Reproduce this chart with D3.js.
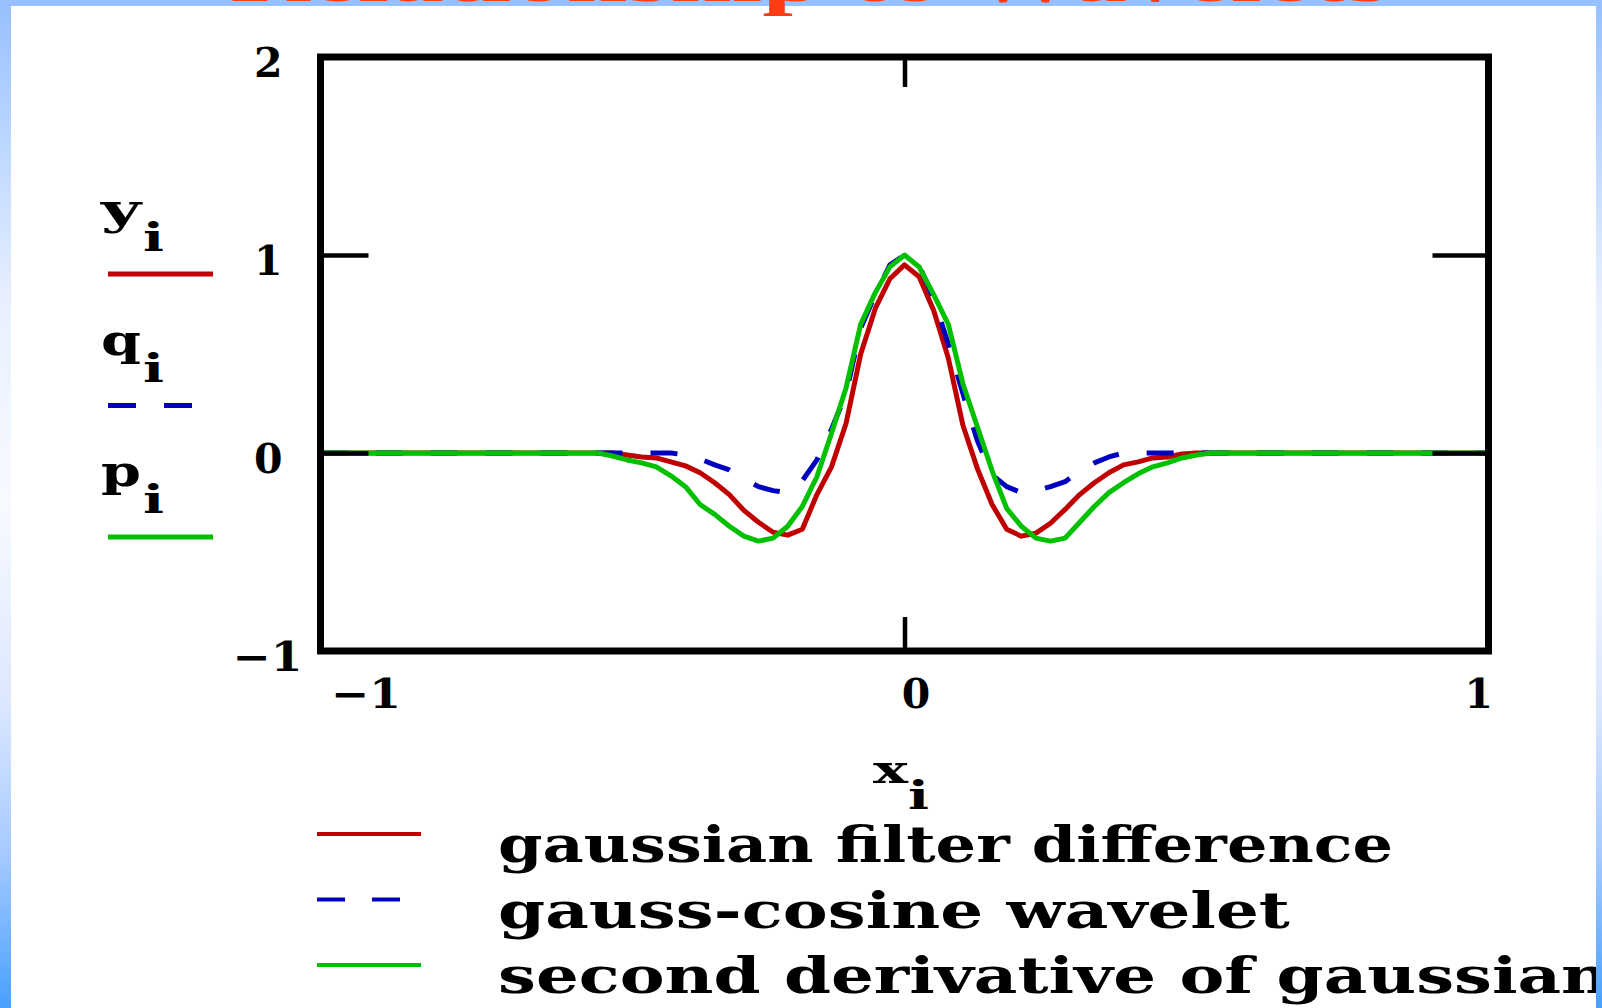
<!DOCTYPE html>
<html>
<head>
<meta charset="utf-8">
<script src="https://cdn.jsdelivr.net/npm/d3@7"></script>
<style>
  body { margin: 0; overflow: hidden; background: #fff; }
  svg { display: block; }
</style>
</head>
<body>
<svg id="chart" width="1602" height="1008"></svg>
<script>
// sample points x_i and the three traces
var xs = [-1, -0.55, -0.525, -0.5, -0.475, -0.45, -0.425, -0.4, -0.375, -0.35, -0.325, -0.3,
  -0.275, -0.25, -0.225, -0.2, -0.175, -0.15, -0.125, -0.1, -0.075, -0.05, -0.025, 0,
  0.025, 0.05, 0.075, 0.1, 0.125, 0.15, 0.175, 0.2, 0.225, 0.25, 0.275, 0.3, 0.325,
  0.35, 0.375, 0.4, 0.425, 0.45, 0.475, 0.5, 0.525, 0.55, 1];

// y_i : gaussian filter difference
var gaussDiff = [0, 0, 0, 0, -0.01, -0.02, -0.025, -0.045, -0.065, -0.1, -0.15, -0.21,
  -0.29, -0.35, -0.4, -0.415, -0.385, -0.21, -0.07, 0.15, 0.5, 0.73, 0.88, 0.95,
  0.89, 0.72, 0.48, 0.14, -0.08, -0.26, -0.385, -0.42, -0.405, -0.355, -0.285, -0.21, -0.15,
  -0.1, -0.06, -0.045, -0.025, -0.02, -0.005, 0, 0, 0, 0];

// q_i : gauss-cosine wavelet
var gaussCos = [0, 0, 0, 0, 0, 0, 0, 0, -0.01, -0.03, -0.06, -0.085,
  -0.13, -0.17, -0.19, -0.2, -0.14, -0.035, 0.12, 0.3, 0.63, 0.8, 0.95, 1.0,
  0.95, 0.78, 0.55, 0.3, 0.06, -0.11, -0.17, -0.2, -0.19, -0.17, -0.145, -0.09, -0.05,
  -0.02, 0, 0, 0, 0, 0, 0, 0, 0, 0];

// p_i : second derivative of gaussian
var secondDeriv = [0, 0, 0, -0.015, -0.035, -0.05, -0.07, -0.115, -0.17, -0.26, -0.31, -0.37,
  -0.42, -0.445, -0.43, -0.37, -0.27, -0.12, 0.1, 0.33, 0.65, 0.81, 0.94, 1.0,
  0.94, 0.8, 0.65, 0.35, 0.13, -0.09, -0.28, -0.37, -0.43, -0.445, -0.43, -0.35, -0.27,
  -0.2, -0.15, -0.105, -0.07, -0.05, -0.025, -0.01, 0, 0, 0];

var xTicks = [-1, 0, 1];
var yTicks = [-1, 0, 1, 2];
var seriesVars = ['y', 'q', 'p'];
var seriesNames = ['gaussian filter difference', 'gauss-cosine wavelet', 'second derivative of gaussian'];
var titleText = 'Relationship to Wavelets';

var W = 1602, H = 1008;
var colors = ['#c00000', '#0000c0', '#00c000'];
var dashes = [null, '27,28', null];
var legendWidths = [895, 792, 1112];
var serif = '"DejaVu Serif", "Liberation Serif", serif';

var svg = d3.select('#chart');
var defs = svg.append('defs');

// slide background: blue band fading to white and back
var grad = defs.append('linearGradient').attr('id', 'bg').attr('x1', 0).attr('y1', 0).attr('x2', 0).attr('y2', 1);
[[0, '#96c0ff'], [0.3, '#e8f0ff'], [0.5, '#f8faff'], [0.7, '#dbe7ff'], [0.85, '#a5c9ff'], [1, '#48a0ff']]
  .forEach(function(s){ grad.append('stop').attr('offset', s[0]).attr('stop-color', s[1]); });
svg.append('rect').attr('width', W).attr('height', H).attr('fill', 'url(#bg)');

defs.append('clipPath').attr('id', 'panel')
  .append('rect').attr('x', 11).attr('y', 6).attr('width', 1585).attr('height', H - 6);
svg.append('rect').attr('x', 11).attr('y', 6).attr('width', 1585).attr('height', H - 6).attr('fill', '#fff');

var g = svg.append('g').attr('clip-path', 'url(#panel)');

var x = d3.scaleLinear().domain([-1, 1]).range([320.5, 1488.5]);
var y = d3.scaleLinear().domain([-1, 2]).range([651, 57]);

// traces: red, then blue dashed, green on top
var line = d3.line()
  .x(function(d){ return x(d[0]); })
  .y(function(d){ return y(d[1]); })
  .curve(d3.curveLinear);

[gaussDiff, gaussCos, secondDeriv].forEach(function(vals, k){
  var pts = xs.map(function(v, i){ return [v, vals[i]]; });
  g.append('path')
    .attr('d', line(pts))
    .attr('fill', 'none')
    .attr('stroke', colors[k])
    .attr('stroke-width', 5)
    .attr('stroke-linejoin', 'round')
    .attr('stroke-dasharray', dashes[k]);
});

// axes, ticks pointing inwards
function styleAxis(sel){
  sel.select('.domain').remove();
  sel.attr('font-family', serif).attr('font-size', 41).attr('font-weight', 'bold');
  sel.selectAll('line').attr('stroke', '#000').attr('stroke-width', 4.5);
  sel.selectAll('text').attr('fill', '#000')
    .attr('textLength', function(d){ return d < 0 ? 70 : null; })
    .attr('lengthAdjust', 'spacingAndGlyphs');
}

var fmt = function(d){ return d < 0 ? '\u2212' + Math.abs(d) : '' + d; };

g.append('g').attr('transform', 'translate(' + x(-1) + ',0)')
  .call(d3.axisLeft(y).tickValues(yTicks).tickSizeInner(-48).tickSizeOuter(0).tickPadding(38).tickFormat(fmt))
  .call(styleAxis)
  .selectAll('text').attr('dy', '0.47em').attr('dx', function(d){ return d < 0 ? 20 : 0; });

g.append('g').attr('transform', 'translate(' + x(1) + ',0)')
  .call(d3.axisRight(y).tickValues(yTicks).tickSizeInner(-56).tickSizeOuter(0).tickFormat(''))
  .call(styleAxis);

g.append('g').attr('transform', 'translate(0,' + y(2) + ')')
  .call(d3.axisTop(x).tickValues(xTicks).tickSizeInner(-30).tickSizeOuter(0).tickFormat(''))
  .call(styleAxis);

g.append('g').attr('transform', 'translate(0,' + y(-1) + ')')
  .call(d3.axisBottom(x).tickValues(xTicks).tickSizeInner(-34).tickSizeOuter(0).tickPadding(28).tickFormat(fmt))
  .call(styleAxis)
  .selectAll('text')
  .attr('text-anchor', function(d, i){ return i === 0 ? 'start' : (i === xTicks.length - 1 ? 'end' : 'middle'); })
  .attr('dx', function(d, i){ return i === 0 ? 10 : (i === xTicks.length - 1 ? 4 : 11); });

// plot frame
g.append('rect')
  .attr('x', x(-1)).attr('y', y(2))
  .attr('width', x(1) - x(-1)).attr('height', y(-1) - y(2))
  .attr('fill', 'none').attr('stroke', '#000').attr('stroke-width', 7);

// trace names on the left (y_i, q_i, p_i) with their line samples
seriesVars.forEach(function(v, k){
  var by = 224 + 131 * k;
  g.append('text').attr('x', 101).attr('y', by)
    .attr('font-family', serif).attr('font-size', 42).attr('font-weight', 'bold')
    .attr('textLength', 40).attr('lengthAdjust', 'spacingAndGlyphs').text(v);
  g.append('text').attr('x', 143).attr('y', by + 27)
    .attr('font-family', serif).attr('font-size', 40).attr('font-weight', 'bold')
    .attr('textLength', 21).attr('lengthAdjust', 'spacingAndGlyphs').text('i');
  g.append('line')
    .attr('x1', 108).attr('x2', k === 1 ? 192 : 213)
    .attr('y1', 274 + 131.5 * k).attr('y2', 274 + 131.5 * k)
    .attr('stroke', colors[k]).attr('stroke-width', 5)
    .attr('stroke-dasharray', k === 1 ? '28,28' : null);
});

// x axis label
g.append('text').attr('x', 873).attr('y', 783)
  .attr('font-family', serif).attr('font-size', 40).attr('font-weight', 'bold')
  .attr('textLength', 35).attr('lengthAdjust', 'spacingAndGlyphs').text('x');
g.append('text').attr('x', 908).attr('y', 809)
  .attr('font-family', serif).attr('font-size', 40).attr('font-weight', 'bold')
  .attr('textLength', 21).attr('lengthAdjust', 'spacingAndGlyphs').text('i');

// bottom legend
seriesNames.forEach(function(name, k){
  var ly = 834 + 65.5 * k;
  g.append('line')
    .attr('x1', 317).attr('x2', k === 1 ? 400 : 421)
    .attr('y1', ly).attr('y2', ly)
    .attr('stroke', colors[k]).attr('stroke-width', 4)
    .attr('stroke-dasharray', k === 1 ? '28,27' : null);
  g.append('text')
    .attr('x', 498).attr('y', 862 + 65.5 * k)
    .attr('font-family', serif).attr('font-size', 50).attr('font-weight', 'bold')
    .attr('textLength', legendWidths[k]).attr('lengthAdjust', 'spacingAndGlyphs')
    .attr('fill', '#000')
    .text(name);
});

// slide title, mostly above the visible area
svg.append('text')
  .attr('x', 230).attr('y', 1)
  .attr('font-family', '"Liberation Serif", serif').attr('font-size', 72).attr('font-weight', 'bold')
  .attr('textLength', 1160).attr('lengthAdjust', 'spacingAndGlyphs')
  .attr('fill', '#ff3c14')
  .text(titleText);
</script>
</body>
</html>
